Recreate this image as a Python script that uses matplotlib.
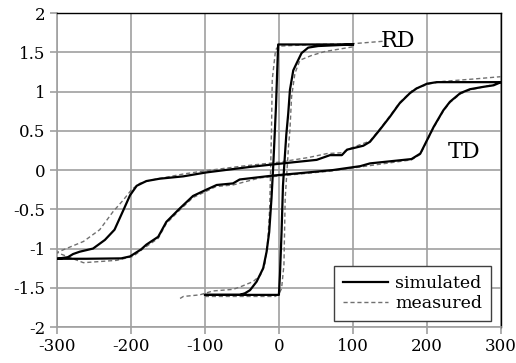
import matplotlib
matplotlib.use("Agg")
import matplotlib.pyplot as plt

plt.rcParams['font.family'] = 'DejaVu Serif'
plt.rcParams['axes.unicode_minus'] = False

# TD loop, simulated: down branch (300 -> -300) then up branch (-300 -> 300)
td_sim_x = [300, 260, 213, 200, 186, 177, 163, 150, 136, 123, 114, 92, 85, 69, 51, 10, -39, -98,
            -129, -161, -179, -192, -201, -210, -222, -235, -251, -269, -278, -285, -300,
            -260, -213, -201, -186, -179, -163, -152, -134, -116, -98, -84, -62, -53, -26, -8,
            28, 73, 110, 123, 179, 191, 200, 209, 222, 231, 245, 258, 276, 290, 300]
td_sim_y = [1.12, 1.12, 1.12, 1.10, 1.04, 0.98, 0.85, 0.68, 0.51, 0.36, 0.31, 0.26, 0.19, 0.19, 0.13, 0.09, 0.04, -0.03,
            -0.08, -0.11, -0.14, -0.20, -0.32, -0.51, -0.76, -0.89, -1.00, -1.04, -1.07, -1.11, -1.13,
            -1.13, -1.125, -1.10, -1.01, -0.95, -0.85, -0.66, -0.49, -0.33, -0.25, -0.19, -0.17, -0.12, -0.09, -0.07,
            -0.04, 0.00, 0.05, 0.085, 0.14, 0.21, 0.38, 0.55, 0.76, 0.87, 0.98, 1.03, 1.06, 1.08, 1.12]

# TD loop, measured
td_meas_x = [300, 263, 222, 204, 182, 163, 150, 136, 123, 100, 85, 65, 40, 0, -50, -100,
             -129, -174, -188, -199, -210, -224, -242, -264, -300,
             -264, -219, -197, -183, -163, -152, -134, -116, -98, -85, -62, -26,
             28, 73, 110, 179, 191, 200, 209, 222, 231, 245, 258, 276, 300]
td_meas_y = [1.19, 1.16, 1.13, 1.10, 1.03, 0.86, 0.69, 0.52, 0.37, 0.29, 0.22, 0.21, 0.16, 0.10, 0.05, -0.01,
             -0.05, -0.13, -0.17, -0.25, -0.38, -0.53, -0.76, -0.91, -1.05,
             -1.18, -1.15, -1.10, -1.00, -0.87, -0.68, -0.51, -0.35, -0.27, -0.21, -0.19, -0.10,
             -0.05, -0.01, 0.04, 0.13, 0.20, 0.37, 0.54, 0.75, 0.86, 0.97, 1.02, 1.06, 1.11]

# RD loop, simulated
rd_sim_x = [100, -1, -4, -7.7, -10, -13.1, -16.6, -21.2, -30, -39, -46, -53, -100,
            0, 1.4, 3.6, 5.5, 7.5, 10, 12.6, 14.9, 19.4, 23.9, 30.6, 39.6, 53, 100]
rd_sim_y = [1.60, 1.60, 0.8, 0.04, -0.36, -0.79, -1.04, -1.25, -1.42, -1.53, -1.57, -1.59, -1.59,
            -1.59, -1.34, -0.79, -0.2, 0.1, 0.45, 0.72, 1.02, 1.27, 1.36, 1.49, 1.56, 1.58, 1.60]

# RD loop, measured (down branch, then up branch)
rd_meas_x = [140, 100, 50, 3, -1.4, -4.5, -9, -10, -11, -12.5, -15, -19, -25, -34.7, -52.7, -62, -89, -107, -129, -136]
rd_meas_y = [1.64, 1.61, 1.60, 1.58, 1.57, 1.53, 1.15, 0.51, 0.09, -0.5, -0.9, -1.2, -1.34, -1.42, -1.49, -1.52, -1.54, -1.59, -1.61, -1.65]
rd_meas2_x = [-100, -5, 0, 3.6, 6.8, 8.5, 11, 13, 14.9, 17.1, 21.6, 28.4, 44.2, 62, 100]
rd_meas2_y = [-1.61, -1.61, -1.58, -1.51, -1.21, -0.36, 0.0, 0.3, 0.51, 0.93, 1.23, 1.40, 1.46, 1.51, 1.57]

fig = plt.figure(figsize=(5.16, 3.63), dpi=100)
ax = fig.add_axes([0.110, 0.099, 0.861, 0.865])

sim_kw = dict(color='black', lw=1.6, zorder=4)
meas_kw = dict(color='#707070', lw=1.0, ls=(0, (3, 2)), zorder=3)

ax.plot(td_meas_x, td_meas_y, **meas_kw)
ax.plot(rd_meas_x, rd_meas_y, **meas_kw)
meas_line, = ax.plot(rd_meas2_x, rd_meas2_y, **meas_kw)
ax.plot(td_sim_x, td_sim_y, **sim_kw)
sim_line, = ax.plot(rd_sim_x, rd_sim_y, **sim_kw)

ax.set_xlim(-300, 300)
ax.set_ylim(-2, 2)
ax.set_xticks(range(-300, 301, 100))
ax.set_yticks([-2, -1.5, -1, -0.5, 0, 0.5, 1, 1.5, 2])
ax.set_yticklabels(['-2', '-1.5', '-1', '-0.5', '0', '0.5', '1', '1.5', '2'])
ax.grid(True, color='#a0a0a0', lw=1.2, zorder=0)
ax.set_axisbelow(True)
ax.tick_params(labelsize=12, length=5, width=1.2, color='#a0a0a0', pad=3)

for side in ['left', 'bottom']:
    ax.spines[side].set_color('#a0a0a0')
    ax.spines[side].set_linewidth(1.2)
for side in ['top', 'right']:
    ax.spines[side].set_color('black')
    ax.spines[side].set_linewidth(1.0)

ax.text(161, 1.64, 'RD', fontsize=16, ha='center', va='center')
ax.text(250, 0.235, 'TD', fontsize=16, ha='center', va='center')

leg = ax.legend([sim_line, meas_line], ['simulated', 'measured'],
                loc='lower right', bbox_to_anchor=(0.977, 0.02), fontsize=12.5,
                fancybox=False, framealpha=1, edgecolor='#404040',
                handlelength=2.6, handletextpad=0.4, borderpad=0.5, labelspacing=0.2,
                borderaxespad=0)
leg.get_frame().set_linewidth(1.0)

fig.savefig('out.png', dpi=100)
